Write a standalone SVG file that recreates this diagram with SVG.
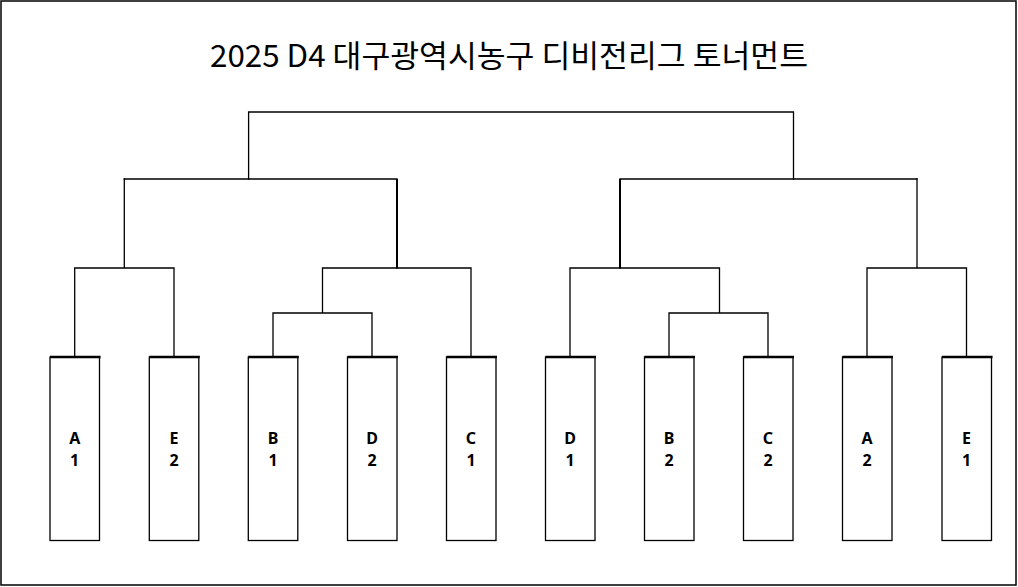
<svg xmlns="http://www.w3.org/2000/svg" width="1018" height="587" viewBox="0 0 1018 587">
<style>
.frame{fill:#fff;stroke:#000;stroke-width:1.5}
.box{fill:#fff;stroke:#000;stroke-width:1.3}
.boxtop{stroke:#000;stroke-width:2.6}
.ln{fill:none;stroke:#000;stroke-width:1.3;stroke-linecap:square}
.lbl{font-family:"Noto Sans","Open Sans",sans-serif;font-weight:bold;font-size:16px;fill:#000;text-anchor:middle}
.title{font-family:"Noto Sans CJK KR","Noto Sans",sans-serif;font-size:31px;fill:#000;text-anchor:middle}
</style>
<rect class="frame" x="1" y="1" width="1015" height="584"/>
<text class="title" x="509" y="67" textLength="598" lengthAdjust="spacingAndGlyphs">2025 D4 대구광역시농구 디비전리그 토너먼트</text>
<g id="connectors">
<path class="ln" d="M74.7 357V268H174V357M124.3 268V179"/>
<path class="ln" d="M273 357V313H372V357M322.5 313V268H471V357"/>
<path class="ln" d="M124.3 179H397V268"/>
<path class="ln" d="M248.6 179V112H793.5V179"/>
<path class="ln" d="M570 357V268H719.5V313M669 357V313H768V357"/>
<path class="ln" d="M867 357V268H966.5V357M917 268V179"/>
<path class="ln" d="M620 268V179H917"/>
<line x1="397" y1="179" x2="397" y2="268" stroke="#000" stroke-width="2"/>
<line x1="620" y1="179" x2="620" y2="268" stroke="#000" stroke-width="2"/>
</g>
<g id="node-A1"><rect class="box" x="50" y="357" width="49.5" height="183.5"/><line class="boxtop" x1="50" y1="357" x2="100.5" y2="357"/><text class="lbl" x="74.7" y="443.5">A</text><text class="lbl" x="74.7" y="466">1</text></g>
<g id="node-E2"><rect class="box" x="149.3" y="357" width="49.5" height="183.5"/><line class="boxtop" x1="149.3" y1="357" x2="199.8" y2="357"/><text class="lbl" x="174" y="443.5">E</text><text class="lbl" x="174" y="466">2</text></g>
<g id="node-B1"><rect class="box" x="248.3" y="357" width="49.5" height="183.5"/><line class="boxtop" x1="248.3" y1="357" x2="298.8" y2="357"/><text class="lbl" x="273" y="443.5">B</text><text class="lbl" x="273" y="466">1</text></g>
<g id="node-D2"><rect class="box" x="347.5" y="357" width="49.5" height="183.5"/><line class="boxtop" x1="347.5" y1="357" x2="398" y2="357"/><text class="lbl" x="372" y="443.5">D</text><text class="lbl" x="372" y="466">2</text></g>
<g id="node-C1"><rect class="box" x="446.5" y="357" width="49.5" height="183.5"/><line class="boxtop" x1="446.5" y1="357" x2="497" y2="357"/><text class="lbl" x="471" y="443.5">C</text><text class="lbl" x="471" y="466">1</text></g>
<g id="node-D1"><rect class="box" x="545.5" y="357" width="49.5" height="183.5"/><line class="boxtop" x1="545.5" y1="357" x2="596" y2="357"/><text class="lbl" x="570" y="443.5">D</text><text class="lbl" x="570" y="466">1</text></g>
<g id="node-B2"><rect class="box" x="644.5" y="357" width="49.5" height="183.5"/><line class="boxtop" x1="644.5" y1="357" x2="695" y2="357"/><text class="lbl" x="669" y="443.5">B</text><text class="lbl" x="669" y="466">2</text></g>
<g id="node-C2"><rect class="box" x="743.5" y="357" width="49.5" height="183.5"/><line class="boxtop" x1="743.5" y1="357" x2="794" y2="357"/><text class="lbl" x="768" y="443.5">C</text><text class="lbl" x="768" y="466">2</text></g>
<g id="node-A2"><rect class="box" x="842.5" y="357" width="49.5" height="183.5"/><line class="boxtop" x1="842.5" y1="357" x2="893" y2="357"/><text class="lbl" x="867" y="443.5">A</text><text class="lbl" x="867" y="466">2</text></g>
<g id="node-E1"><rect class="box" x="942" y="357" width="49.5" height="183.5"/><line class="boxtop" x1="942" y1="357" x2="992.5" y2="357"/><text class="lbl" x="966.5" y="443.5">E</text><text class="lbl" x="966.5" y="466">1</text></g>
</svg>
